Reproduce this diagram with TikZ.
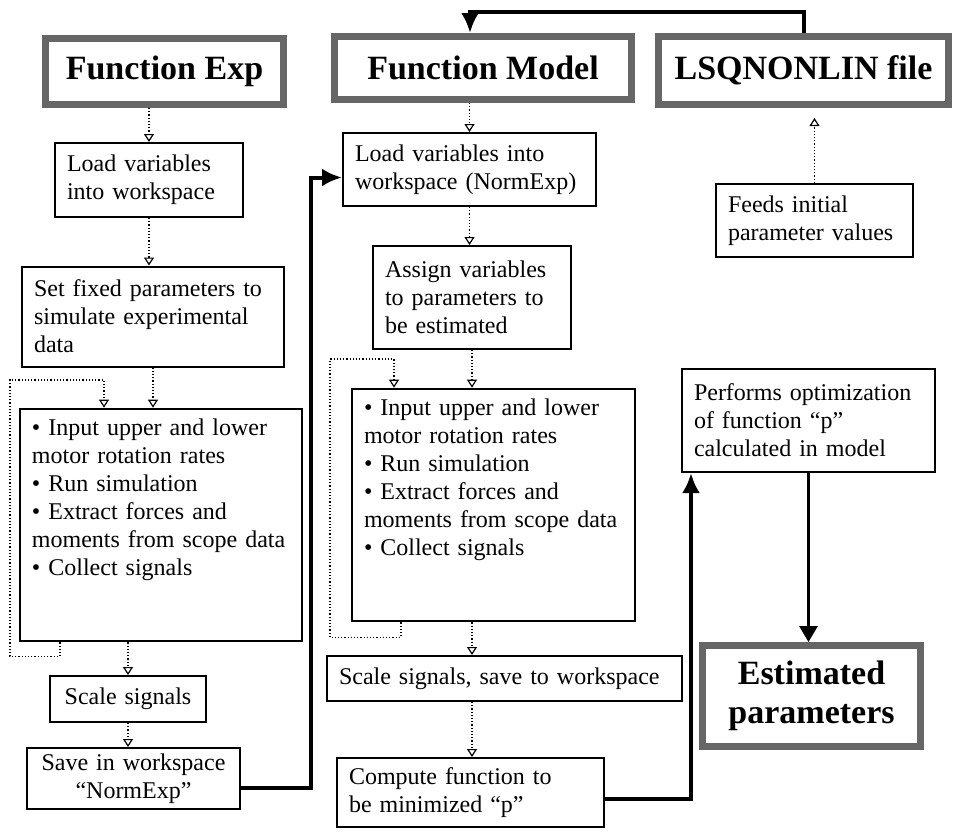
\documentclass[tikz,border=0pt]{standalone}
\usepackage{fontspec}
\setmainfont{Liberation Serif}
\usetikzlibrary{arrows.meta, calc}

\begin{document}
\begin{tikzpicture}[x=0.5pt, y=-0.5pt,
		head/.style={rectangle, draw=black!60, line width=3.5pt, font=\fontsize{17}{19.5}\selectfont\bfseries, align=center, inner sep=0pt},
		box/.style={rectangle, draw, line width=1pt, font=\fontsize{12}{14}\selectfont, inner xsep=6pt, inner ysep=0pt, align=left},
		flow/.style={densely dotted, line width=0.6pt, -{Triangle[open, width=5pt, length=4pt]}},
		link/.style={line width=2pt, -{Latex[length=10pt, width=9pt]}}]
		\useasboundingbox (0,0) rectangle (954,831);
		
		%Headers
		\node[head, minimum width=119pt, minimum height=33pt] (fexp) at (164.5,71.5) {Function Exp};
		\node[head, minimum width=148.5pt, minimum height=31.5pt] (fmodel) at (483,68) {Function Model};
		\node[head, minimum width=145pt, minimum height=34pt] (lsq) at (803.5,70.5) {LSQNONLIN file};
		\node[head, minimum width=109pt, minimum height=50.5pt] (estim) at (811.5,696) {Estimated\\parameters};
		
		%Function Exp column
		\node[box, text width=82pt, minimum height=37pt] (loadexp) at (149,180) {Load variables\\into workspace};
		\node[box, text width=119pt, minimum height=50pt] (setfix) at (153,316.5) {Set fixed parameters to\\simulate experimental\\data};
		\node[box, text width=129pt, inner ysep=5pt, text depth=98pt] (simexp) at (161,525) {\textbullet\ Input upper and lower\\motor rotation rates\\\textbullet\ Run simulation\\\textbullet\ Extract forces and\\moments from scope data\\\textbullet\ Collect signals};
		\node[box, text width=66pt, minimum height=23pt, align=center] (scaleexp) at (128,699) {Scale signals};
		\node[box, text width=94.5pt, minimum height=30.5pt, align=center] (saveexp) at (133.5,778.5) {Save in workspace\\“NormExp”};
		
		%Function Model column
		\node[box, text width=114.5pt, minimum height=36.5pt] (loadmod) at (469.5,169.5) {Load variables into\\workspace (NormExp)};
		\node[box, text width=87pt, minimum height=51.5pt] (assign) at (472,297.5) {Assign variables\\to parameters to\\be estimated};
		\node[box, text width=129.5pt, inner ysep=5pt, text depth=98pt] (simmod) at (493.5,505) {\textbullet\ Input upper and lower\\motor rotation rates\\\textbullet\ Run simulation\\\textbullet\ Extract forces and\\moments from scope data\\\textbullet\ Collect signals};
		\node[box, text width=165.5pt, minimum height=22.5pt] (scalemod) at (504.5,678.5) {Scale signals, save to workspace};
		\node[box, text width=121.5pt, minimum height=34.5pt] (compute) at (470.5,792.5) {Compute function to\\be minimized “p”};
		
		%LSQNONLIN column
		\node[box, text width=86.5pt, minimum height=36.5pt] (feeds) at (814.5,220.5) {Feeds initial\\parameter values};
		\node[box, text width=114.5pt, minimum height=51.5pt] (perform) at (808.5,420.5) {Performs optimization\\of function “p”\\calculated in model};
		
		%Arrows
		\draw[flow] (fexp.south -| loadexp.north) -- (loadexp.north);
		\draw[flow] (loadexp) -- (loadexp |- setfix.north);
		\draw[flow] (setfix) -- (setfix |- simexp.north);
		\draw[flow] (simexp.south west) ++(41,0) -- ++(0,14) -| (10,380) -| ($(simexp.north west)+(85,0)$);
		\draw[flow] (simexp.south -| scaleexp.north) -- (scaleexp.north);
		\draw[flow] (scaleexp) -- (scaleexp |- saveexp.north);
		\draw[link] ($(saveexp.east)+(0,9)$) -- ++(70,0) |- ($(loadmod.west)+(0,8)$);
		
		\draw[link] (lsq.north) -- ++(0,-21) -| ($(fmodel.north)+(-13,0)$);
		\draw[flow] (fmodel.south -| loadmod.north) -- (loadmod.north);
		\draw[flow] (loadmod) -- (loadmod |- assign.north);
		\draw[flow] (assign) -- (assign |- simmod.north);
		\draw[flow] (simmod.south west) ++(50,0) -- ++(0,15) -| (330,359) -| ($(simmod.north west)+(43,0)$);
		\draw[flow] (simmod.south -| assign.south) -- (assign.south |- scalemod.north);
		\draw[flow] (scalemod.south -| assign.south) -- (assign.south |- compute.north);
		\draw[link] ($(compute.east)+(0,6)$) -| ($(perform.south west)+(10,0)$);
		
		\draw[flow, shorten >=5pt] (feeds) -- (feeds |- lsq.south);
		\draw[line width=1.5pt, -{Triangle[width=9pt, length=8pt]}] (perform) -- (perform |- estim.north);
	\end{tikzpicture}
\end{document}
